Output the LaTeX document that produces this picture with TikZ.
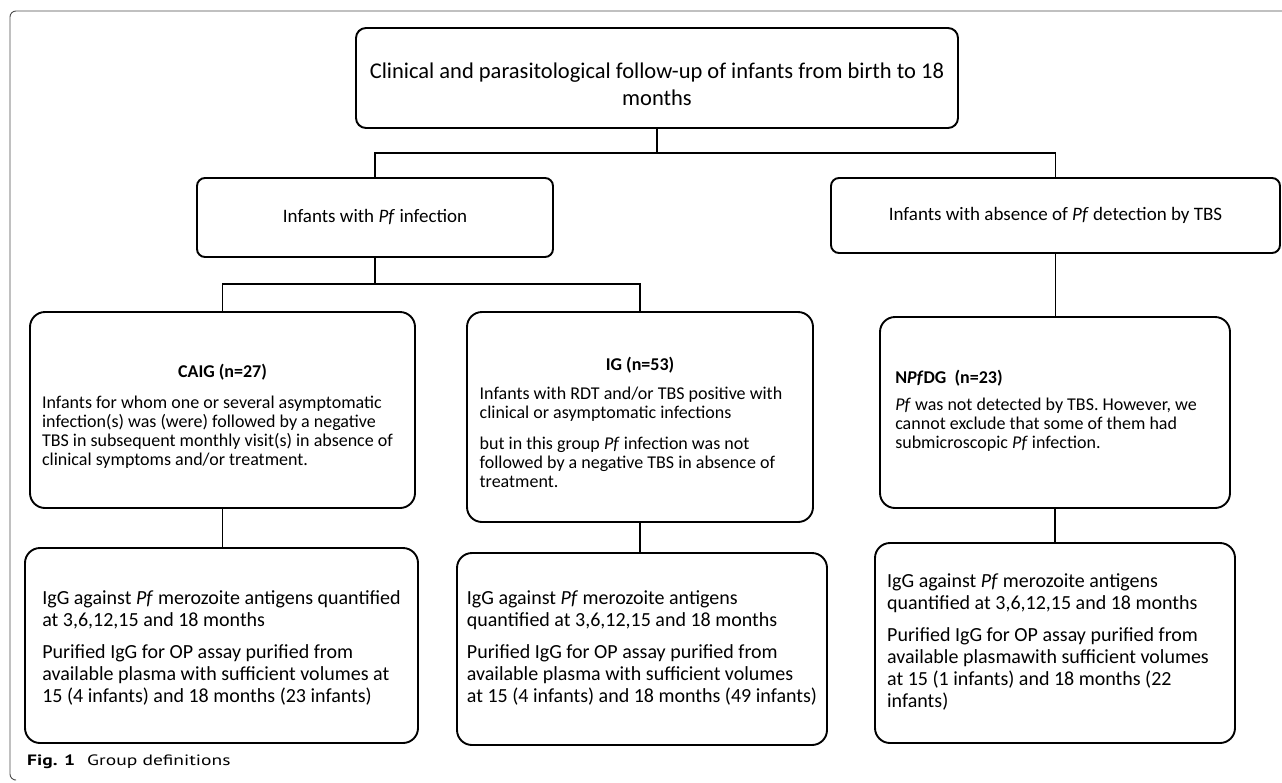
\documentclass[tikz,border=0pt]{standalone}
\usepackage{fontspec}
\setmainfont{Carlito}
\newfontfamily\capfont[FakeStretch=1.3]{PT Sans}
\usetikzlibrary{positioning}
\newcommand{\Lift}[1]{\rule{0pt}{#1}} % pushes the text of a box down
\tikzset{
  Box/.style={draw, line width=1.9pt, rounded corners=#1, inner sep=0pt}, % group boxes
  Box/.default=10pt,
  Link/.style={line width=1.9pt}, % connectors
  Head/.style={font=\fontsize{22.5}{27}\selectfont},
  Mid/.style={font=\fontsize{19}{21}\selectfont},
  Upper/.style={font=\fontsize{18}{19}\selectfont},
  Lower/.style={font=\fontsize{20}{22}\selectfont}
}

\begin{document}
\begin{tikzpicture}[x=1pt, y=-1pt]
\useasboundingbox (0,0) rectangle (1282,782);

%Frame
\draw[gray!60!black, line width=0.9pt, rounded corners=6pt] (1283,11) -- (10,11) -- (10,780) -- (14,780);

%Boxes
\node[Box, Head, align=center, minimum width=602pt, minimum height=100pt] (follow) at (657,78)
  {\Lift{28pt}Clinical and parasitological follow-up of infants from birth to 18\\ months};
\node[Box=8pt, Mid, minimum width=356pt, minimum height=79pt] (infect) at (375,217.5)
  {Infants with \textit{Pf} infection};
\node[Box=8pt, Mid, minimum width=449pt, minimum height=75pt] (absent) at (1055.5,215.5)
  {Infants with absence of \textit{Pf} detection by TBS};

\node[Box=15pt, Upper, minimum width=385pt, minimum height=196pt] (caig) at (222.5,410)
  {\begin{tabular}{@{}l@{\hspace{10pt}}}
   \multicolumn{1}{@{}c@{}}{\Lift{29pt}\textbf{CAIG (n=27)}}\\[12pt]
   Infants for whom one or several asymptomatic\\
   infection(s) was (were) followed by a negative\\
   TBS in subsequent monthly visit(s) in absence of\\
   clinical symptoms and/or treatment.
   \end{tabular}};
\node[Box=15pt, Upper, minimum width=346pt, minimum height=210pt] (ig) at (640,417)
  {\begin{tabular}{@{}l@{\hspace{18pt}}}
   \multicolumn{1}{@{}c@{}}{\Lift{29pt}\textbf{IG (n=53)}}\\[10pt]
   Infants with RDT and/or TBS positive with\\
   clinical or asymptomatic infections\\[12pt]
   but in this group \textit{Pf} infection was not\\
   followed by a negative TBS in absence of\\
   treatment.
   \end{tabular}};
\node[Box=15pt, Upper, minimum width=350pt, minimum height=191pt] (npfdg) at (1055,412.5)
  {\begin{tabular}{@{}l@{\hspace{18pt}}}
   \textbf{N\textit{Pf}DG\ \ (n=23)}\\[8pt]
   \textit{Pf} was not detected by TBS. However, we\\
   cannot exclude that some of them had\\
   submicroscopic \textit{Pf} infection.
   \end{tabular}};

\node[Box=15pt, Lower, minimum width=393pt, minimum height=195pt] (caigout) at (221.5,645.5)
  {\begin{tabular}{@{}l@{}}
   \Lift{23pt}IgG against \textit{Pf} merozoite antigens quantified\\
   at 3,6,12,15 and 18 months\\[10pt]
   Purified IgG for OP assay purified from\\
   available plasma with sufficient volumes at\\
   15 (4 infants) and 18 months (23 infants)
   \end{tabular}};
\node[Box=15pt, Lower, minimum width=370pt, minimum height=192pt] (igout) at (642,649)
  {\begin{tabular}{@{}l@{}}
   IgG against \textit{Pf} merozoite antigens\\
   quantified at 3,6,12,15 and 18 months\\[10pt]
   Purified IgG for OP assay purified from\\
   available plasma with sufficient volumes\\
   at 15 (4 infants) and 18 months (49 infants)
   \end{tabular}};
\node[Box=15pt, Lower, minimum width=360pt, minimum height=200pt] (npfdgout) at (1055,643)
  {\begin{tabular}{@{}l@{\hspace{14pt}}}
   IgG against \textit{Pf} merozoite antigens\\
   quantified at 3,6,12,15 and 18 months\\[10pt]
   Purified IgG for OP assay purified from\\
   available plasmawith sufficient volumes\\
   at 15 (1 infants) and 18 months (22\\
   infants)
   \end{tabular}};

%Caption
\node[anchor=west, inner sep=0pt, font=\capfont\fontsize{15}{17}\selectfont] (caption) at (27,762)
  {\textbf{Fig. 1}\hspace{12pt}Group definitions};

%Connectors
\coordinate (split1) at (657,153);
\coordinate (split2) at (375,284);
\draw[Link] (follow.south) -- (split1);
\draw[Link] (infect.north) |- (split1) -| (absent.north);
\draw[Link] (infect.south) -- (split2);
\draw[Link] (caig.north) |- (split2) -| (ig.north);
\draw[Link] (absent.south) -- (absent.south |- npfdg.north);
\draw[Link] (caig.south) -- (caig.south |- caigout.north);
\draw[Link] (ig.south) -- (ig.south |- igout.north);
\draw[Link] (npfdg.south) -- (npfdg.south |- npfdgout.north);

\end{tikzpicture}
\end{document}
